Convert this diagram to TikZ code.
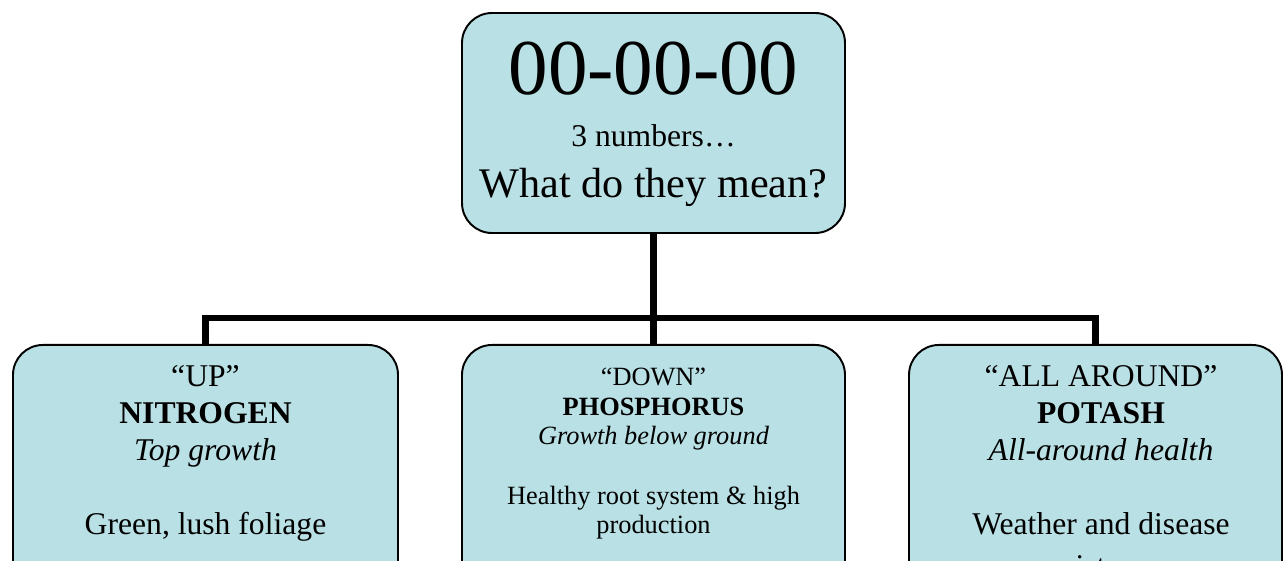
\documentclass[tikz,border=0pt]{standalone}
\usepackage{fontspec}
\setmainfont{Liberation Serif}
\usetikzlibrary{positioning}
\definecolor{boxTeal}{RGB}{185,224,228}

\begin{document}
\begin{tikzpicture}[
  roundBox/.style={draw=black, line width=1.1pt, fill=boxTeal, rounded corners=0.6cm, inner sep=0pt},
  boxText/.style={inner sep=0pt, align=center},
  trunk/.style={line width=3.7pt}
]
\useasboundingbox (0,0) rectangle (25.7,11.2);
\clip (0,0) rectangle (25.7,11.2);

% question box on top
\node[roundBox, minimum width=7.66cm, minimum height=4.4cm] (key) at (13.07,8.74) {};

% three boxes below, running off the bottom edge
\node[roundBox, minimum width=7.7cm, minimum height=4.92cm, anchor=north] (nitro) at (4.11,4.32) {};
\node[roundBox, minimum width=7.66cm, minimum height=4.92cm, anchor=north] (phos) at (13.07,4.32) {};
\node[roundBox, minimum width=7.46cm, minimum height=4.92cm, anchor=north] (potash) at (21.91,4.32) {};

% texts
\node[boxText, below=0.6cm of key.north, font=\fontsize{18}{29.2}\selectfont] (keyText) {%
  {\fontsize{45}{29.2}\selectfont 00-00-00}\\
  3 numbers…\\
  {\fontsize{24}{29.2}\selectfont What do they mean?}};
\node[boxText, below=0.42cm of nitro.north, font=\fontsize{18}{21}\selectfont] (nitroText) {%
  “UP”\\ \textbf{NITROGEN}\\ \textit{Top growth}\\[21pt] Green, lush foliage};
\node[boxText, below=0.48cm of phos.north, font=\fontsize{15}{16.8}\selectfont] (phosText) {%
  “DOWN”\\ \textbf{PHOSPHORUS}\\ \textit{Growth below ground}\\[16.8pt]
  Healthy root system \& high\\ production};
\node[boxText, below=0.42cm of potash.north, xshift=0.11cm, font=\fontsize{18}{21}\selectfont] (potashText) {%
  “ALL AROUND”\\ \textbf{POTASH}\hspace*{1.2em}\\ \textit{All-around health}\\[21pt]
  Weather and disease\\[3pt] resistance};

% connectors
\coordinate (fork) at (13.07,4.84);
\draw[trunk] (key.south) -- (phos.north);
\draw[trunk] (nitro.north) |- (fork) -| (potash.north);

\end{tikzpicture}
\end{document}
